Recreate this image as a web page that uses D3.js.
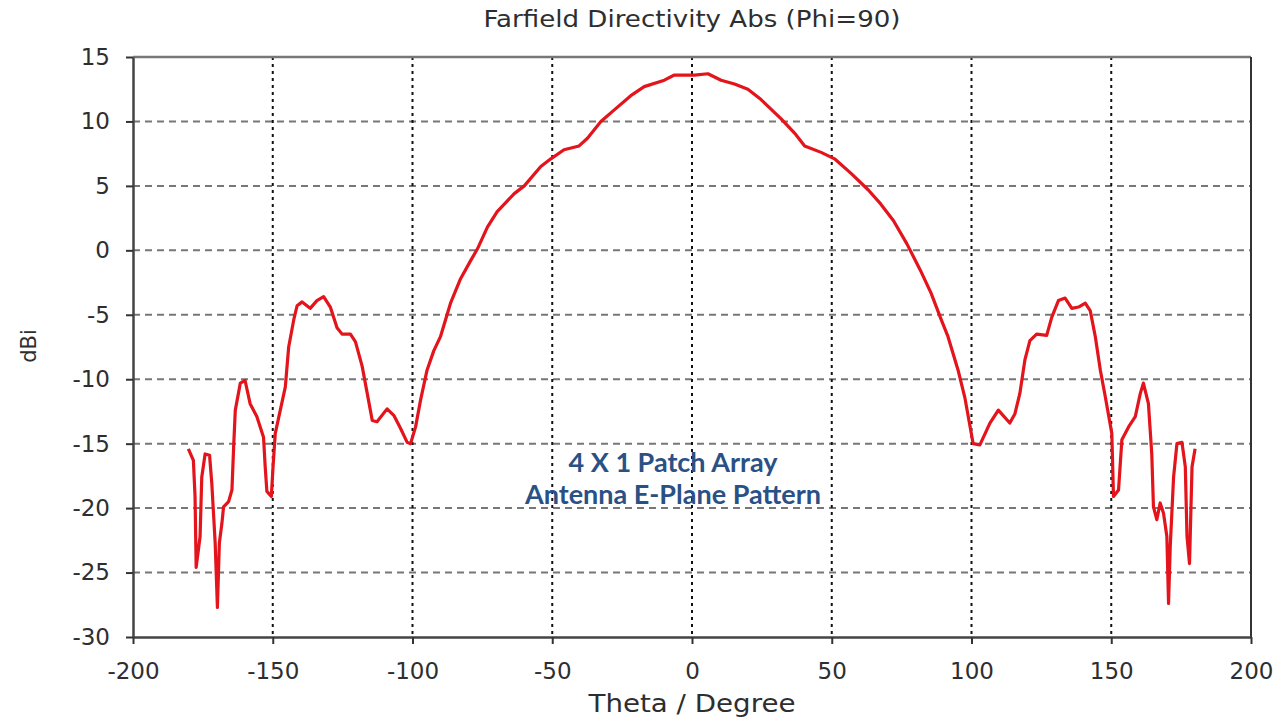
<!DOCTYPE html>
<html>
<head>
<meta charset="utf-8">
<script src="https://cdn.jsdelivr.net/npm/d3@7"></script>
<style>
  html, body { margin: 0; padding: 0; background: #fff; }
  svg { display: block; }
</style>
</head>
<body>
<svg id="chart" width="1286" height="721"></svg>
<script>
// ---- data ----
const theta = [-180.2,-178.4,-177.8,-177.4,-176,-175.4,-174.2,-172.6,-171.8,-171.2,-170.6,-169.8,-169.1,-168.2,-167.6,-165.8,-164.6,-164,-163.4,-161.6,-159.9,-158.1,-155.7,-153.3,-152.7,-152.1,-150.5,-149.9,-149.1,-147.3,-145.5,-144.3,-142.5,-141.3,-139.5,-136.6,-134.2,-131.8,-129.4,-127,-125.2,-122.2,-120.4,-118,-116.2,-114.4,-112.7,-109.1,-106.7,-104.3,-101.9,-100.7,-98.9,-97.1,-94.8,-92.4,-90,-86.4,-82.8,-79.2,-76.8,-73.2,-69.7,-63.6,-60,-54.1,-50.5,-45.8,-40.4,-37.4,-32.6,-27.8,-21.9,-17.1,-9.9,-6.3,0.9,5.7,10.4,15.2,20,24.7,31.9,36.7,40.3,46.2,51,57,63,67.5,72.1,76.9,81.6,85.5,89.2,91.6,95.2,97.6,100.6,103,106.6,109.6,113.7,115.5,117.3,119.1,120.9,123.3,126.9,128.7,131.1,133.5,135.9,138.3,140.7,142.5,144.3,146.1,147.9,150.2,150.8,152.6,153.8,156.2,158.6,160.4,161.5,163.3,164.5,165.1,166.3,167.5,168.7,169.9,170.5,171.1,172.3,173.5,175.3,176.5,177.1,178,178.9,180];
const directivity = [-15.4,-16.3,-19.1,-24.6,-22.2,-17.6,-15.8,-15.9,-18.1,-20.4,-22.7,-27.7,-22.7,-21.2,-19.9,-19.5,-18.6,-15.3,-12.4,-10.3,-10.1,-11.9,-12.9,-14.5,-16.8,-18.7,-19.1,-16.8,-14.2,-12.4,-10.6,-7.5,-5.4,-4.3,-4.0,-4.5,-3.9,-3.6,-4.4,-6.0,-6.5,-6.5,-7.1,-9.0,-11.1,-13.2,-13.3,-12.3,-12.8,-13.8,-14.9,-15.0,-13.7,-11.6,-9.3,-7.8,-6.7,-4.1,-2.2,-0.8,0.1,1.8,3.0,4.4,5.0,6.5,7.1,7.8,8.1,8.7,10.0,10.9,12.0,12.7,13.2,13.6,13.6,13.7,13.2,12.9,12.5,11.7,10.2,9.1,8.1,7.6,7.1,5.95,4.7,3.6,2.3,0.5,-1.5,-3.3,-5.4,-6.7,-9.3,-11.4,-15.0,-15.1,-13.4,-12.4,-13.4,-12.7,-11.1,-8.5,-7.0,-6.5,-6.6,-5.2,-3.9,-3.7,-4.5,-4.4,-4.1,-4.7,-6.7,-9.3,-11.4,-14.2,-19.1,-18.6,-14.7,-13.7,-12.9,-11.1,-10.3,-11.9,-15.8,-19.9,-20.9,-19.6,-20.4,-22.2,-27.4,-23.0,-17.6,-15.0,-14.9,-16.8,-22.2,-24.3,-16.8,-15.4];
const xTicks = [-200,-150,-100,-50,0,50,100,150,200];
const yTicks = [15,10,5,0,-5,-10,-15,-20,-25,-30];
const titleText = "Farfield Directivity Abs (Phi=90)";
const xLabel = "Theta / Degree";
const yLabel = "dBi";
const noteLines = ["4 X 1 Patch Array", "Antenna E-Plane Pattern"];

// ---- layout ----
const svg = d3.select("#chart");
const L = 133, R = 1251, T = 57, B = 637;
const x = d3.scaleLinear().domain([-200, 200]).range([L, R]);
const y = d3.scaleLinear().domain([-30, 15]).range([B, T]);
const font = "'DejaVu Sans', Verdana, sans-serif";
const txt = "#2e2e2e";

// horizontal grid (dashed gray)
svg.append("g").selectAll("line")
  .data(yTicks.filter(v => v !== 15 && v !== -30))
  .join("line")
  .attr("x1", L).attr("x2", R)
  .attr("y1", d => y(d)).attr("y2", d => y(d))
  .attr("stroke", "#777").attr("stroke-width", 2)
  .attr("stroke-dasharray", "7,5");

// vertical grid (dotted black)
svg.append("g").selectAll("line")
  .data(xTicks.filter(v => v !== -200 && v !== 200))
  .join("line")
  .attr("x1", d => x(d)).attr("x2", d => x(d))
  .attr("y1", T).attr("y2", B)
  .attr("stroke", "#111").attr("stroke-width", 2)
  .attr("stroke-dasharray", "3,4");

// frame: top & right
svg.append("line").attr("x1", L).attr("x2", R).attr("y1", T).attr("y2", T)
  .attr("stroke", "#777").attr("stroke-width", 2.5);
svg.append("line").attr("x1", R).attr("x2", R).attr("y1", T).attr("y2", B)
  .attr("stroke", "#333").attr("stroke-width", 2);

// axes
const fmt = d => String(d);
const xAxis = d3.axisBottom(x).tickValues(xTicks).tickFormat(fmt).tickSize(7).tickSizeOuter(0).tickPadding(19);
const yAxis = d3.axisLeft(y).tickValues(yTicks).tickFormat(fmt).tickSize(7).tickSizeOuter(0).tickPadding(16);

const gx = svg.append("g").attr("transform", `translate(0,${B})`).call(xAxis);
const gy = svg.append("g").attr("transform", `translate(${L},0)`).call(yAxis);
[gx, gy].forEach(g => {
  g.select(".domain").attr("stroke", "#444").attr("stroke-width", 2.5);
  g.selectAll(".tick line").attr("stroke", "#333").attr("stroke-width", 2);
  g.selectAll(".tick text").attr("fill", txt).style("font-family", font).style("font-size", "23px");
});

// curve
const line = d3.line().x((d, i) => x(theta[i])).y(d => y(d));
svg.append("path")
  .datum(directivity)
  .attr("d", line)
  .attr("fill", "none")
  .attr("stroke", "#e3141b")
  .attr("stroke-width", 3.2)
  .attr("stroke-linejoin", "round");

// titles
svg.append("text").attr("x", 692).attr("y", 27).attr("text-anchor", "middle")
  .attr("fill", txt).style("font-family", font).style("font-size", "23px")
  .attr("textLength", 417).attr("lengthAdjust", "spacingAndGlyphs").text(titleText);
svg.append("text").attr("x", 692).attr("y", 712).attr("text-anchor", "middle")
  .attr("fill", txt).style("font-family", font).style("font-size", "25px")
  .attr("textLength", 207).attr("lengthAdjust", "spacingAndGlyphs").text(xLabel);
svg.append("text").attr("transform", "translate(36,346) rotate(-90)").attr("text-anchor", "middle")
  .attr("fill", txt).style("font-family", font).style("font-size", "21px").text(yLabel);

// annotation
svg.append("g").selectAll("text").data(noteLines).join("text")
  .attr("x", 673).attr("y", (d, i) => 472 + i * 32)
  .attr("text-anchor", "middle")
  .attr("fill", "#2a5185")
  .style("font-family", "Lato, 'Open Sans', sans-serif")
  .style("font-weight", "bold")
  .style("font-size", "27px")
  .text(d => d);
</script>
</body>
</html>
